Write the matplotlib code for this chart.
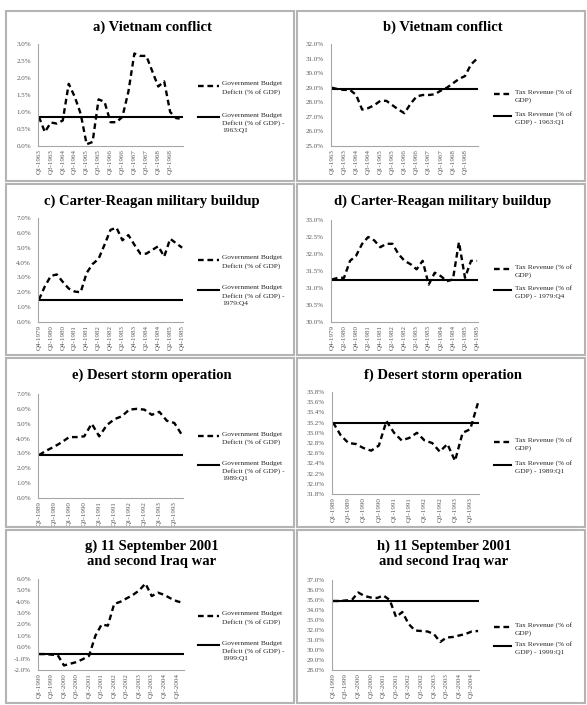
import matplotlib
matplotlib.use("Agg")
import matplotlib.pyplot as plt
from matplotlib.lines import Line2D
from matplotlib.ticker import MultipleLocator, FuncFormatter
import numpy as np

W, H = 587, 705

# ---------------- data ----------------
titles = ["a) Vietnam conflict", "b) Vietnam conflict",
          "c) Carter-Reagan military buildup", "d) Carter-Reagan military buildup",
          "e) Desert storm operation", "f) Desert storm operation",
          "g) 11 September 2001\nand second Iraq war", "h) 11 September 2001\nand second Iraq war"]

ticks_vietnam = ["Q1-1963", "Q3-1963", "Q1-1964", "Q3-1964", "Q1-1965", "Q3-1965",
                 "Q1-1966", "Q3-1966", "Q1-1967", "Q3-1967", "Q1-1968", "Q3-1968"]
ticks_reagan = ["Q4-1979", "Q2-1980", "Q4-1980", "Q2-1981", "Q4-1981", "Q2-1982", "Q4-1982",
                "Q2-1983", "Q4-1983", "Q2-1984", "Q4-1984", "Q2-1985", "Q4-1985"]
ticks_storm = ["Q1-1989", "Q3-1989", "Q1-1990", "Q3-1990", "Q1-1991", "Q3-1991",
               "Q1-1992", "Q3-1992", "Q1-1993", "Q3-1993"]
ticks_iraq = ["Q1-1999", "Q3-1999", "Q1-2000", "Q3-2000", "Q1-2001", "Q3-2001",
              "Q1-2002", "Q3-2002", "Q1-2003", "Q3-2003", "Q1-2004", "Q3-2004"]

deficit_vietnam = [0.86, 0.41, 0.69, 0.66, 0.75, 1.83, 1.45, 0.95, 0.05, 0.12, 1.37, 1.30,
                   0.70, 0.70, 0.86, 1.60, 2.72, 2.65, 2.65, 2.20, 1.75, 1.90, 1.00, 0.82, 0.80]
tax_vietnam = [29.0, 28.9, 28.85, 28.85, 28.5, 27.5, 27.6, 27.8, 28.1, 28.1, 27.8, 27.5,
               27.25, 27.9, 28.4, 28.5, 28.5, 28.55, 28.8, 29.0, 29.3, 29.6, 29.8, 30.6, 31.0]
deficit_reagan = [1.5, 2.4, 3.1, 3.2, 2.7, 2.25, 2.05, 2.0, 3.3, 3.9, 4.25, 5.2, 6.2,
                  6.35, 5.5, 5.85, 5.2, 4.6, 4.6, 4.85, 5.1, 4.4, 5.6, 5.3, 5.0]
tax_reagan = [31.25, 31.3, 31.3, 31.8, 31.95, 32.3, 32.5, 32.4, 32.2, 32.3, 32.3, 32.0,
              31.8, 31.7, 31.55, 31.8, 31.1, 31.45, 31.35, 31.2, 31.25, 32.35, 31.3, 31.8, 31.8]
deficit_storm = [2.9, 3.2, 3.45, 3.75, 4.1, 4.1, 4.15, 5.0, 4.15, 4.9,
                 5.3, 5.5, 5.95, 6.0, 5.95, 5.6, 5.8, 5.2, 5.05, 4.25]
tax_storm = [33.2, 32.95, 32.8, 32.78, 32.7, 32.65, 32.75, 33.23, 33.0, 32.85,
             32.9, 33.0, 32.85, 32.8, 32.63, 32.78, 32.45, 33.0, 33.07, 33.58]
deficit_iraq = [-0.6, -0.6, -0.65, -0.7, -1.6, -1.45, -1.3, -1.05, -0.75, 1.0, 2.0, 1.9,
                3.8, 4.0, 4.3, 4.6, 5.0, 5.6, 4.5, 4.8, 4.6, 4.3, 4.05, 3.9]
tax_iraq = [34.9, 34.9, 34.95, 35.0, 35.75, 35.4, 35.25, 35.2, 35.45, 35.0, 33.3, 33.8,
            32.6, 31.95, 31.9, 31.85, 31.6, 30.8, 31.25, 31.3, 31.45, 31.6, 31.85, 31.9]

base_deficit = [0.86, 1.5, 2.9, -0.6]
base_tax = [28.9, 31.25, 33.2, 34.9]
base_dates = ["1963:Q1", "1979:Q4", "1989:Q1", "1999:Q1"]

series = [deficit_vietnam, tax_vietnam, deficit_reagan, tax_reagan,
          deficit_storm, tax_storm, deficit_iraq, tax_iraq]
bases = [base_deficit[0], base_tax[0], base_deficit[1], base_tax[1],
         base_deficit[2], base_tax[2], base_deficit[3], base_tax[3]]
ticklists = [ticks_vietnam, ticks_vietnam, ticks_reagan, ticks_reagan,
             ticks_storm, ticks_storm, ticks_iraq, ticks_iraq]
ylims = [(0, 3), (25, 32), (0, 7), (30, 33), (0, 7), (31.8, 33.8), (-2, 6), (28, 37)]
ysteps = [0.5, 1, 1, 0.5, 1, 0.2, 1, 1]

# ---------------- layout (pixels) ----------------
# axes boxes: left, top, right, bottom
axboxes = [(38, 44, 183, 146), (331, 44, 478, 146),
           (38, 218, 183, 322), (331, 220, 478, 322),
           (38, 394, 183, 498), (332, 392, 479, 494),
           (38, 579, 184, 670), (332, 580, 479, 670)]
title_pos = [(152, 27), (443, 27), (152, 201), (443, 201),
             (152, 375), (443, 375), (152, 554), (444, 554)]
leg_y = [(86, 117), (94, 116), (260, 290), (269, 290),
         (436, 465), (442, 465), (616, 645), (627, 646)]

serif = ["Liberation Serif", "DejaVu Serif"]
fig = plt.figure(figsize=(W / 100, H / 100), dpi=100)
fig.patch.set_facecolor("white")

def fx(x):
    return x / W

def fy(y):
    return 1 - y / H

# panel frames
frame_color = "#b4b4b4"
for (x0, x1) in [(6, 294), (297, 585)]:
    for (y0, y1) in [(11, 181), (184, 355), (358, 527), (530, 703)]:
        fig.add_artist(plt.Rectangle((fx(x0), fy(y1)), fx(x1 - x0), (y1 - y0) / H,
                                     transform=fig.transFigure, fill=False,
                                     edgecolor=frame_color, linewidth=1.5))

pct = FuncFormatter(lambda v, p: f"{v:.1f}%")

for i in range(8):
    l, t, r, b = axboxes[i]
    ax = fig.add_axes([fx(l), fy(b), fx(r - l), (b - t) / H])
    vals = series[i]
    n = len(vals)
    x = np.arange(n)
    ax.plot(x, vals, color="black", lw=1.7, linestyle=(0, (2.4, 1.6)), solid_capstyle="butt")
    ax.plot(x, [bases[i]] * n, color="black", lw=1.5)
    ax.set_xlim(-0.15, n - 1 + 0.15)
    ax.set_ylim(*ylims[i])
    ax.yaxis.set_major_locator(MultipleLocator(ysteps[i]))
    ax.yaxis.set_major_formatter(pct)
    tl = ticklists[i]
    ax.set_xticks(np.arange(len(tl)) * 2)
    ax.set_xticklabels(tl, rotation=90)
    for s in ["top", "right"]:
        ax.spines[s].set_visible(False)
    for s in ["left", "bottom"]:
        ax.spines[s].set_color("#a6a6a6")
        ax.spines[s].set_linewidth(0.8)
    ax.tick_params(axis="both", length=0, labelsize=5, labelcolor="#595959")
    ax.tick_params(axis="y", pad=5)
    ax.tick_params(axis="x", pad=2)
    for lab in ax.get_xticklabels() + ax.get_yticklabels():
        lab.set_family(serif)
    ax.set_facecolor("none")

    # title
    tx, ty = title_pos[i]
    fig.text(fx(tx), fy(ty), titles[i], ha="center", va="center", family=serif,
             fontweight="bold", fontsize=10.5, linespacing=1.15)

    # legend (manual)
    col = i % 2
    sx0, sx1, txx = (198, 219, 222) if col == 0 else (494, 511, 515)
    yd, ys = leg_y[i]
    fig.add_artist(Line2D([fx(sx0), fx(sx1)], [fy(yd), fy(yd)], transform=fig.transFigure,
                          color="black", lw=1.7, linestyle=(0, (2.4, 1.6))))
    fig.add_artist(Line2D([fx(sx0), fx(sx1)], [fy(ys), fy(ys)], transform=fig.transFigure,
                          color="black", lw=1.5))
    date = base_dates[i // 2]
    if col == 0:
        t1 = "Government Budget\nDeficit (% of GDP)"
        t2 = "Government Budget\nDeficit (% of GDP) -\n" + date
    else:
        t1 = "Tax Revenue (% of\nGDP)"
        t2 = "Tax Revenue (% of\nGDP) - " + date
    fig.text(fx(txx), fy(yd - 4.5), t1, ha="left", va="top", family=serif,
             fontsize=5.3, color="#262626", linespacing=1.5)
    fig.text(fx(txx), fy(ys - 4.5), t2, ha="left", va="top", family=serif,
             fontsize=5.3, color="#262626", linespacing=1.5)

fig.savefig("out.png", dpi=100, facecolor="white")
